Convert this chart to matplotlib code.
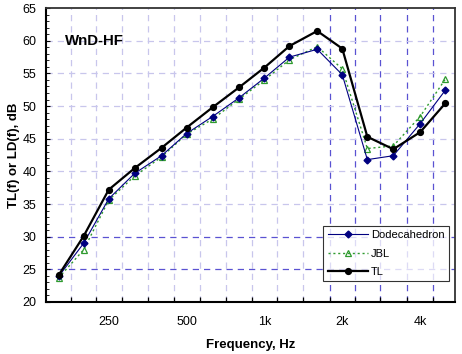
import numpy as np
import matplotlib.pyplot as plt
from matplotlib.ticker import FixedLocator, MultipleLocator, NullFormatter

plt.rcParams['font.family'] = ['Liberation Sans', 'DejaVu Sans']

# third-octave band centres (Hz)
freq = [160, 200, 250, 315, 400, 500, 630, 800, 1000, 1250, 1600, 2000, 2500, 3150, 4000, 5000]

dodeca = [23.9, 29.0, 35.8, 39.7, 42.4, 45.8, 48.4, 51.3, 54.3, 57.5, 58.7, 54.8, 41.8, 42.4, 47.3, 52.4]
jbl = [23.7, 28.0, 35.6, 39.3, 42.2, 45.7, 48.0, 51.1, 54.0, 57.1, 59.1, 55.7, 43.5, 43.9, 48.4, 54.1]
tl = [24.1, 30.1, 37.2, 40.5, 43.6, 46.7, 49.8, 52.9, 55.9, 59.2, 61.5, 58.8, 45.3, 43.4, 46.0, 50.4]

tick_freq = [250, 500, 1000, 2000, 4000]
tick_lab = ['250', '500', '1k', '2k', '4k']

fig = plt.figure(figsize=(4.62, 3.54), dpi=100)
ax = fig.add_axes([0.0996, 0.147, 0.8854, 0.830])

f = np.array(freq, dtype=float)
edges = np.sqrt(f[:-1] * f[1:])

# grid: light everywhere, darker on the upper bands and 25/30 dB
light = '#c8c6ec'
dark = '#5a52d2'
for i, e in enumerate(edges):
    c = dark if i >= 10 else light
    ax.axvline(e, color=c, ls=(0, (5, 4)), lw=0.9, zorder=0)
for y in range(25, 65, 5):
    c = dark if y in (25, 30) else light
    ax.axhline(y, color=c, ls=(0, (5, 4)), lw=0.9, zorder=0)

ax.plot(freq, dodeca, color='#000080', lw=0.8, marker='D', ms=3.5,
        label='Dodecahedron', zorder=3)
ax.plot(freq, jbl, color='#2e9a2e', lw=1.0, ls=(0, (1.5, 2)), marker='^', ms=5,
        mfc='none', mec='#2e9a2e', mew=0.9, label='JBL', zorder=2)
ax.plot(freq, tl, color='black', lw=1.6, marker='o', ms=4.2, label='TL', zorder=4)

ax.set_xscale('log')
ax.set_xlim(143, 5460)
ax.set_ylim(20, 65)
ax.xaxis.set_major_locator(FixedLocator(tick_freq))
ax.set_xticklabels(tick_lab)
ax.xaxis.set_minor_locator(FixedLocator(edges))
ax.xaxis.set_minor_formatter(NullFormatter())
ax.yaxis.set_major_locator(MultipleLocator(5))
ax.yaxis.set_minor_locator(MultipleLocator(1))
ax.tick_params(axis='x', which='major', length=0, labelsize=9, pad=10)
ax.tick_params(axis='x', which='minor', direction='in', length=3.5, width=0.9)
ax.tick_params(axis='y', which='major', direction='in', length=3, labelsize=9, pad=7)
ax.tick_params(axis='y', which='minor', direction='in', length=2)

for s in ['left', 'bottom']:
    ax.spines[s].set_linewidth(1.5)
for s in ['top', 'right']:
    ax.spines[s].set_linewidth(1.3)
    ax.spines[s].set_color('#333333')

ax.set_xlabel('Frequency, Hz', fontsize=9.5, fontweight='bold', labelpad=8)
ax.set_ylabel('TL(f) or LD(f), dB', fontsize=9.5, fontweight='bold', labelpad=2)
ax.text(0.047, 0.875, 'WnD-HF', transform=ax.transAxes, fontsize=10.8,
        fontweight='bold')

leg = ax.legend(loc='lower right', bbox_to_anchor=(0.985, 0.07), fontsize=8,
                frameon=True, fancybox=False, edgecolor='black', handlelength=3.6,
                borderpad=0.4, labelspacing=0.75, handletextpad=0.3,
                borderaxespad=0)
leg.get_frame().set_linewidth(0.8)

fig.savefig('out.png', dpi=100)
